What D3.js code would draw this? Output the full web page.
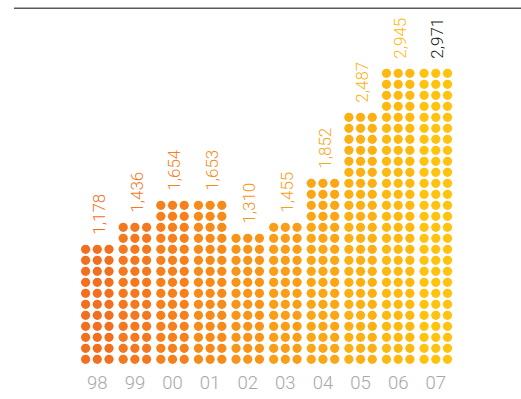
<!DOCTYPE html>
<html>
<head>
<meta charset="utf-8">
<script src="https://cdn.jsdelivr.net/npm/d3@7"></script>
<style>
  html, body { margin: 0; padding: 0; background: #fff; }
  svg { display: block; }
</style>
</head>
<body>
<svg id="chart" width="521" height="399"></svg>
<script>
// Yearly totals, drawn as stacks of dots (three dots per row)
const years = ["98", "99", "00", "01", "02", "03", "04", "05", "06", "07"];
const values = [1178, 1436, 1654, 1653, 1310, 1455, 1852, 2487, 2945, 2971];
const valueLabels = ["1,178", "1,436", "1,654", "1,653", "1,310", "1,455", "1,852", "2,487", "2,945", "2,971"];

const unitsPerRow = 110;      // each row of three dots stands for this much
const dotsPerRow = 3;

const svg = d3.select("#chart");

// horizontal placement of each year's stack
const x = d3.scalePoint().domain(years).range([97.3, 435.8]);
// column offset inside a stack
const col = d3.scaleLinear().domain([0, dotsPerRow - 1]).range([-11.7, 11.7]);
// row index -> vertical position
const row = d3.scaleLinear().domain([0, 26]).range([359.3, 73.3]);

// colour runs from deep orange to warm yellow across the years
const color = d3.scaleLinear()
  .domain([0, years.length - 1])
  .range(["#f36f20", "#ffc20f"])
  .interpolate(d3.interpolateRgb);

const r = 4.6;

// top rule
svg.append("line")
  .attr("x1", 14).attr("x2", 521)
  .attr("y1", 8.3).attr("y2", 8.3)
  .attr("stroke", "#5a5a5a")
  .attr("stroke-width", 1.6);

const bars = years.map((y, i) => ({
  year: y,
  value: values[i],
  label: valueLabels[i],
  rows: Math.round(values[i] / unitsPerRow),
  i
}));

const g = svg.selectAll("g.bar")
  .data(bars)
  .join("g")
  .attr("class", "bar")
  .attr("transform", d => `translate(${x(d.year)},0)`);

g.selectAll("circle")
  .data(d => d3.range(d.rows * dotsPerRow).map(k => ({
    c: k % dotsPerRow,
    r: Math.floor(k / dotsPerRow),
    i: d.i
  })))
  .join("circle")
  .attr("cx", d => col(d.c))
  .attr("cy", d => row(d.r))
  .attr("r", r)
  .attr("fill", d => color(d.i));

// value labels, rotated, sitting above each stack
g.append("text")
  .attr("transform", d => `translate(1.5,${row(d.rows - 1) - r - 10}) rotate(-90)`)
  .attr("dy", "0.36em")
  .attr("text-anchor", "start")
  .attr("font-family", "Roboto, 'Liberation Sans', sans-serif")
  .attr("font-weight", 300)
  .attr("font-size", 17)
  .attr("fill", d => d.i === years.length - 1 ? "#1a1a1a" : color(d.i))
  .text(d => d.label);

// year labels along the bottom
svg.append("g")
  .selectAll("text")
  .data(years)
  .join("text")
  .attr("x", d => x(d))
  .attr("y", 389)
  .attr("text-anchor", "middle")
  .attr("font-family", "Roboto, 'Liberation Sans', sans-serif")
  .attr("font-weight", 300)
  .attr("font-size", 18.5)
  .attr("fill", "#a8a8a8")
  .text(d => d);
</script>
</body>
</html>
